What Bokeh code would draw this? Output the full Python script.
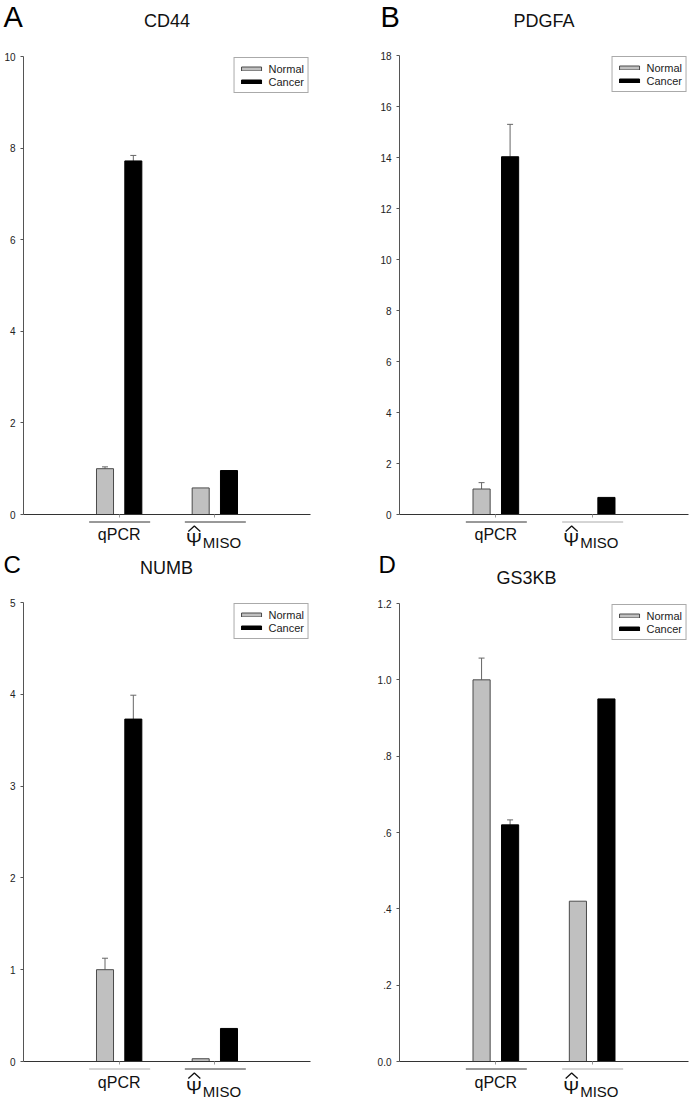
from bokeh.plotting import figure
from bokeh.layouts import column, row
from bokeh.models import (ColumnDataSource, FixedTicker, Whisker, TeeHead,
                          Legend, LegendItem, Range1d)
from bokeh.core.properties import value
from bokeh.embed import file_html
from bokeh.resources import INLINE

# ---------------- data ----------------
GROUPS = ["qPCR", "MISO"]
SERIES = ["Normal", "Cancer"]

CD44_NORMAL = [1.00, 0.58]
CD44_NORMAL_ERR = [0.04, 0.0]
CD44_CANCER = [7.72, 0.96]
CD44_CANCER_ERR = [0.12, 0.0]
CD44_TICKS = [0, 2, 4, 6, 8, 10]

PDGFA_NORMAL = [1.00, 0.0]
PDGFA_NORMAL_ERR = [0.25, 0.0]
PDGFA_CANCER = [14.03, 0.67]
PDGFA_CANCER_ERR = [1.27, 0.0]
PDGFA_TICKS = [0, 2, 4, 6, 8, 10, 12, 14, 16, 18]

NUMB_NORMAL = [1.00, 0.03]
NUMB_NORMAL_ERR = [0.125, 0.0]
NUMB_CANCER = [3.73, 0.36]
NUMB_CANCER_ERR = [0.26, 0.0]
NUMB_TICKS = [0, 1, 2, 3, 4, 5]

GS3KB_NORMAL = [1.00, 0.42]
GS3KB_NORMAL_ERR = [0.057, 0.0]
GS3KB_CANCER = [0.62, 0.95]
GS3KB_CANCER_ERR = [0.013, 0.0]
GS3KB_TICKS = [0.0, 0.2, 0.4, 0.6, 0.8, 1.0, 1.2]
GS3KB_TICK_LABELS = ["0.0", ".2", ".4", ".6", ".8", "1.0", "1.2"]

FONT = "Liberation Sans"
NORMAL_COLOR = "#c0c0c0"
CANCER_COLOR = "#000000"
TEXT_COLOR = "#111111"

# layout of each panel (pixels): canvas width W; main-frame side borders l/r;
# heights of top strip, frame and bottom strip; text anchors in the strips
PANELS = [
    dict(letter="A", title="CD44", normal=CD44_NORMAL, nerr=CD44_NORMAL_ERR,
         cancer=CD44_CANCER, cerr=CD44_CANCER_ERR, ticks=CD44_TICKS, labels=None,
         ymax=10, W=345, l=23, r=35, top_h=50, frame_h=458, bot_h=30,
         letter_x=3, letter_y=16, letter_size="29px",
         title_x=166.5, title_y=20.7, ul=("#333333", "#333333"),
         q_y=14.4, psi_y=19.4, miso_y=21.5),
    dict(letter="B", title="PDGFA", normal=PDGFA_NORMAL, nerr=PDGFA_NORMAL_ERR,
         cancer=PDGFA_CANCER, cerr=PDGFA_CANCER_ERR, ticks=PDGFA_TICKS, labels=None,
         ymax=18, W=344, l=54, r=1, top_h=49, frame_h=459, bot_h=30,
         letter_x=35, letter_y=16, letter_size="29px",
         title_x=198.5, title_y=20.7, ul=("#333333", "#aaaaaa"),
         q_y=14.4, psi_y=19.4, miso_y=21.5),
    dict(letter="C", title="NUMB", normal=NUMB_NORMAL, nerr=NUMB_NORMAL_ERR,
         cancer=NUMB_CANCER, cerr=NUMB_CANCER_ERR, ticks=NUMB_TICKS, labels=None,
         ymax=5, W=345, l=23, r=35, top_h=46, frame_h=459, bot_h=36,
         letter_x=3, letter_y=13.5, letter_size="24px",
         title_x=166, title_y=17.7, ul=("#aaaaaa", "#333333"),
         q_y=15.0, psi_y=20.3, miso_y=24.0),
    dict(letter="D", title="GS3KB", normal=GS3KB_NORMAL, nerr=GS3KB_NORMAL_ERR,
         cancer=GS3KB_CANCER, cerr=GS3KB_CANCER_ERR, ticks=GS3KB_TICKS,
         labels=GS3KB_TICK_LABELS,
         ymax=1.2, W=344, l=54, r=1, top_h=47, frame_h=458, bot_h=36,
         letter_x=33, letter_y=13.5, letter_size="24px",
         title_x=181, title_y=27.7, ul=("#333333", "#aaaaaa"),
         q_y=15.0, psi_y=20.3, miso_y=24.0),
]

OFFSET = 0.148
BAR_W = 0.178
MAIN_TOP = 6
MAIN_BOTTOM = 6


def bare_figure(width, height, x_range, y_range):
    p = figure(width=width, height=height, x_range=x_range, y_range=y_range,
               output_backend="svg", toolbar_location=None, title=None,
               x_axis_type=None, y_axis_type=None,
               min_border_left=0, min_border_right=0,
               min_border_top=0, min_border_bottom=0)
    p.frame_align = False
    p.outline_line_color = None
    p.background_fill_color = "white"
    p.border_fill_color = "white"
    p.xgrid.visible = False
    p.ygrid.visible = False
    return p


def add_text(p, x, y, txt, size, align, color=TEXT_COLOR):
    p.text(x=[x], y=[y], text=[txt], text_font=value(FONT),
           text_font_size=value(size), text_color=color,
           text_align=value(align), text_baseline=value("alphabetic"))


def make_panel(cfg):
    W = cfg["W"]
    fw = W - cfg["l"] - cfg["r"]
    ymax = cfg["ymax"]
    gx = [i + 1 for i in range(len(GROUPS))]

    # ---- top strip: panel letter and title (pixel coordinates, y down) ----
    top = bare_figure(W, cfg["top_h"], Range1d(0, W), Range1d(cfg["top_h"], 0))
    add_text(top, cfg["letter_x"], cfg["letter_y"], cfg["letter"],
             cfg["letter_size"], "left", "#000000")
    add_text(top, cfg["title_x"], cfg["title_y"], cfg["title"], "18px", "center")

    # ---- main plot ----
    H = MAIN_TOP + cfg["frame_h"] + MAIN_BOTTOM
    p = figure(width=W, height=H, x_range=Range1d(0, 3), y_range=Range1d(0, ymax),
               output_backend="svg", toolbar_location=None, title=None,
               min_border_left=cfg["l"], min_border_right=cfg["r"],
               min_border_top=MAIN_TOP, min_border_bottom=MAIN_BOTTOM)
    p.frame_align = False
    p.outline_line_color = None
    p.xgrid.visible = False
    p.ygrid.visible = False
    p.background_fill_color = "white"
    p.border_fill_color = "white"

    xn = [g - OFFSET for g in gx]
    xc = [g + OFFSET for g in gx]
    src_n = ColumnDataSource(dict(x=xn, top=cfg["normal"]))
    src_c = ColumnDataSource(dict(x=xc, top=cfg["cancer"]))
    rn = p.vbar(x="x", top="top", width=BAR_W, source=src_n,
                fill_color=NORMAL_COLOR, line_color="#4a4a4a", line_width=1)
    rc = p.vbar(x="x", top="top", width=BAR_W, source=src_c,
                fill_color=CANCER_COLOR, line_color="#000000", line_width=1)

    base, lower, upper = [], [], []
    for xs, vals, errs in ((xn, cfg["normal"], cfg["nerr"]),
                           (xc, cfg["cancer"], cfg["cerr"])):
        for x, v, e in zip(xs, vals, errs):
            if e > 0:
                base.append(x)
                lower.append(v)
                upper.append(v + e)
    wsrc = ColumnDataSource(dict(base=base, lower=lower, upper=upper))
    p.add_layout(Whisker(base="base", lower="lower", upper="upper", source=wsrc,
                         dimension="height", line_color="#666666", line_width=1,
                         lower_head=None,
                         upper_head=TeeHead(size=6, line_color="#666666",
                                            line_width=1)))

    ya = p.yaxis[0]
    ya.ticker = FixedTicker(ticks=cfg["ticks"])
    ya.minor_tick_line_color = None
    ya.major_tick_in = 0
    ya.major_tick_out = 3
    ya.axis_line_color = "#555555"
    ya.major_tick_line_color = "#555555"
    ya.major_label_text_font = FONT
    ya.major_label_text_font_size = "10px"
    ya.major_label_text_color = "#222222"
    ya.major_label_standoff = 5
    if cfg["labels"]:
        ya.major_label_overrides = {t: s for t, s in zip(cfg["ticks"], cfg["labels"])}

    xa = p.xaxis[0]
    xa.ticker = FixedTicker(ticks=gx)
    xa.minor_tick_line_color = None
    xa.major_tick_in = 0
    xa.major_tick_out = 3
    xa.axis_line_color = "#333333"
    xa.major_tick_line_color = "#999999"
    xa.major_label_overrides = {g: "" for g in gx}
    xa.major_label_text_font_size = "0px"
    xa.major_label_standoff = 0

    legend = Legend(items=[LegendItem(label=SERIES[0], renderers=[rn]),
                           LegendItem(label=SERIES[1], renderers=[rc])],
                    location="top_right", margin=1, padding=4, spacing=0,
                    label_height=13, glyph_height=5, glyph_width=25,
                    label_standoff=5, label_text_font=FONT,
                    label_text_font_size="11px", label_text_color="#222222",
                    border_line_color="#555555", border_line_width=1,
                    background_fill_color="white", background_fill_alpha=1.0)
    p.add_layout(legend)

    # ---- bottom strip: group underlines and labels (x in data units) ----
    ux = 3.0 / fw
    bx_range = Range1d(-cfg["l"] * ux, 3 + cfg["r"] * ux)
    bot = bare_figure(W, cfg["bot_h"], bx_range, Range1d(cfg["bot_h"], 0))
    seg = ColumnDataSource(dict(x0=[g - 30 * ux for g in gx],
                                x1=[g + 31 * ux for g in gx],
                                y=[1.5 for _ in gx], c=list(cfg["ul"])))
    bot.segment(x0="x0", y0="y", x1="x1", y1="y", line_color="c", line_width=1,
                source=seg)
    add_text(bot, gx[0], cfg["q_y"], GROUPS[0], "16px", "center")
    # hat accent over psi
    bot.line(x=[gx[1] - 26.5 * ux, gx[1] - 20.5 * ux, gx[1] - 14.5 * ux],
             y=[11, 5.5, 11], line_color=TEXT_COLOR, line_width=1.3)
    add_text(bot, gx[1] - 13 * ux, cfg["psi_y"], "\u03A8", "19px", "right")
    add_text(bot, gx[1] - 12 * ux, cfg["miso_y"], GROUPS[1], "15px", "left")

    return column(top, p, bot, spacing=0)


cols = [make_panel(c) for c in PANELS]
layout = column(row(cols[0], cols[1], spacing=0), row(cols[2], cols[3], spacing=0),
                spacing=0)

open("out.html", "w").write(file_html(layout, INLINE))
